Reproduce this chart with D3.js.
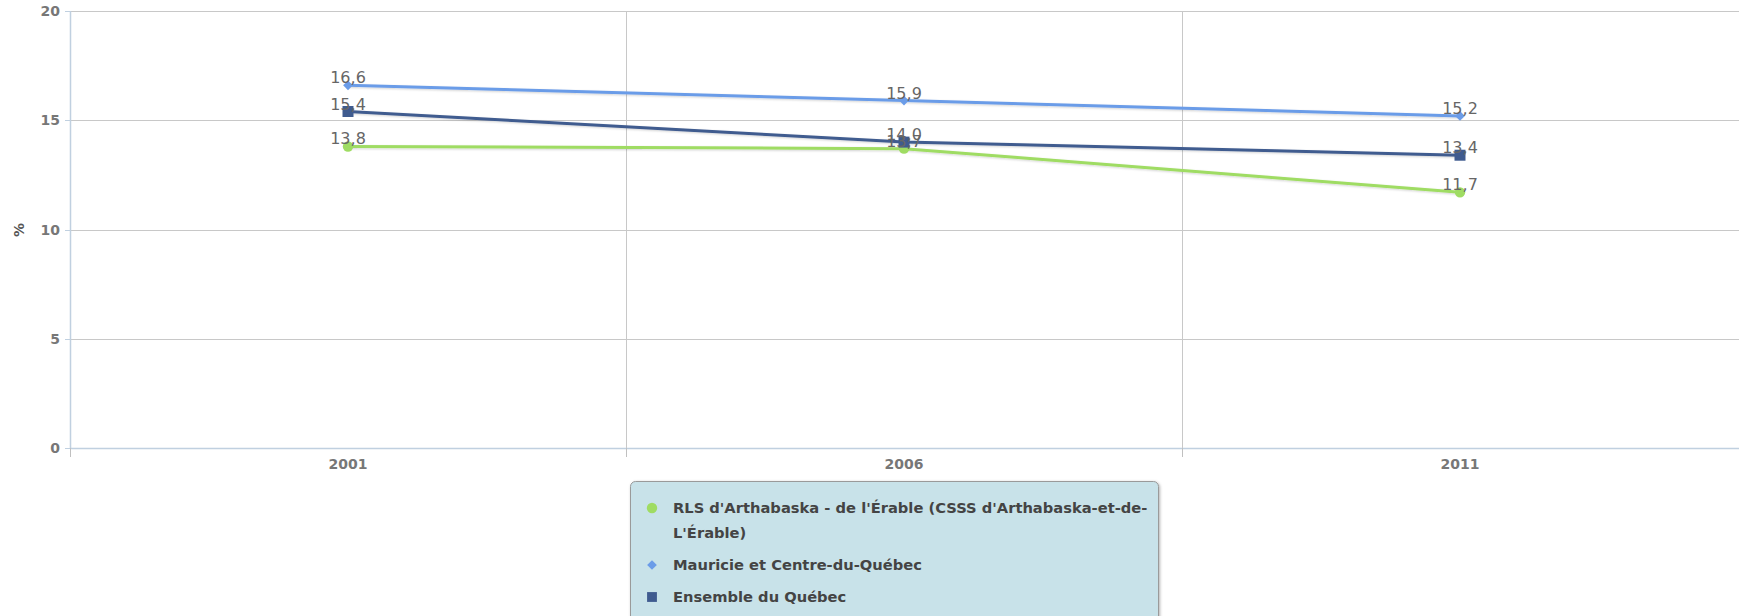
<!DOCTYPE html>
<html>
<head>
<meta charset="utf-8">
<script src="https://cdn.jsdelivr.net/npm/d3@7"></script>
<style>
  html, body { margin: 0; padding: 0; background: #fff; }
  svg { display: block; font-family: "DejaVu Sans", Verdana, sans-serif; }
</style>
</head>
<body>
<svg id="chart" width="1739" height="616"></svg>
<script>
// Years on the category axis
const years = ["2001", "2006", "2011"];

// Series values (%)
const rlsValues = [13.8, 13.7, 11.7];
const mauricieValues = [16.6, 15.9, 15.2];
const quebecValues = [15.4, 14.0, 13.4];

// Y axis ticks
const yTicks = [0, 5, 10, 15, 20];

const seriesNames = [
  ["RLS d'Arthabaska - de l'Érable (CSSS d'Arthabaska-et-de-", "L'Érable)"],
  ["Mauricie et Centre-du-Québec"],
  ["Ensemble du Québec"]
];

const series = [
  { name: seriesNames[0], values: rlsValues, color: "#9fdc63", symbol: "circle" },
  { name: seriesNames[1], values: mauricieValues, color: "#6b9ce8", symbol: "diamond" },
  { name: seriesNames[2], values: quebecValues, color: "#3f5b8f", symbol: "square" }
];

const svg = d3.select("#chart");
const plot = { left: 70, right: 1738, top: 11, bottom: 448 };

const x = d3.scaleBand().domain(years).range([plot.left, plot.right]).padding(0);
const y = d3.scaleLinear().domain([0, 20]).range([plot.bottom, plot.top]);
const cx = d => x(d) + x.bandwidth() / 2;

const defs = svg.append("defs");
const shadow = defs.append("filter").attr("id", "shadow")
  .attr("x", "-5%").attr("y", "-50%").attr("width", "110%").attr("height", "200%");
shadow.append("feDropShadow").attr("dx", 1).attr("dy", 1).attr("stdDeviation", 1)
  .attr("flood-color", "#000").attr("flood-opacity", 0.18);
const boxShadow = defs.append("filter").attr("id", "boxshadow")
  .attr("x", "-5%").attr("y", "-20%").attr("width", "110%").attr("height", "140%");
boxShadow.append("feDropShadow").attr("dx", 1).attr("dy", 1).attr("stdDeviation", 1.5)
  .attr("flood-color", "#000").attr("flood-opacity", 0.3);

// Horizontal grid lines
svg.append("g").selectAll("line").data(yTicks.filter(t => t > 0)).join("line")
  .attr("x1", plot.left).attr("x2", 1739)
  .attr("y1", d => Math.round(y(d)) + 0.5).attr("y2", d => Math.round(y(d)) + 0.5)
  .attr("stroke", "#c8c8c8").attr("stroke-width", 1);

// Vertical grid lines at category boundaries
const boundaries = years.slice(1).map(d => x(d));
svg.append("g").selectAll("line").data(boundaries).join("line")
  .attr("x1", d => Math.round(d) + 0.5).attr("x2", d => Math.round(d) + 0.5)
  .attr("y1", plot.top).attr("y2", plot.bottom)
  .attr("stroke", "#c8c8c8").attr("stroke-width", 1);

// X axis
const xAxis = svg.append("g");
xAxis.append("line")
  .attr("x1", plot.left).attr("x2", 1739)
  .attr("y1", plot.bottom + 0.5).attr("y2", plot.bottom + 0.5)
  .attr("stroke", "#c0d0e0").attr("stroke-width", 1.5);
xAxis.selectAll("line.tick").data([x(years[0])].concat(boundaries)).join("line")
  .attr("class", "tick")
  .attr("x1", d => Math.round(d) + 0.5).attr("x2", d => Math.round(d) + 0.5)
  .attr("y1", plot.bottom).attr("y2", plot.bottom + 9)
  .attr("stroke", "#c0c0c0").attr("stroke-width", 1);
xAxis.selectAll("text").data(years).join("text")
  .attr("x", d => cx(d)).attr("y", plot.bottom + 21)
  .attr("text-anchor", "middle")
  .attr("font-size", 14).attr("font-weight", "bold").attr("fill", "#777")
  .text(d => d);

// Y axis
const yAxis = svg.append("g");
yAxis.append("line")
  .attr("x1", plot.left + 0.5).attr("x2", plot.left + 0.5)
  .attr("y1", plot.top).attr("y2", plot.bottom)
  .attr("stroke", "#c0d0e0").attr("stroke-width", 1.5);
yAxis.selectAll("line.tick").data(yTicks).join("line")
  .attr("class", "tick")
  .attr("x1", plot.left - 5).attr("x2", plot.left)
  .attr("y1", d => Math.round(y(d)) + 0.5).attr("y2", d => Math.round(y(d)) + 0.5)
  .attr("stroke", "#c0d0e0").attr("stroke-width", 1);
yAxis.selectAll("text").data(yTicks).join("text")
  .attr("x", plot.left - 10).attr("y", d => y(d) + 5)
  .attr("text-anchor", "end")
  .attr("font-size", 14).attr("font-weight", "bold").attr("fill", "#777")
  .text(d => d);
svg.append("text")
  .attr("transform", "translate(24,230) rotate(-90)")
  .attr("text-anchor", "middle")
  .attr("font-size", 14).attr("font-weight", "bold").attr("fill", "#555")
  .text("%");

// Marker shapes
function symbolPath(type, size) {
  const t = type === "circle" ? d3.symbolCircle : type === "diamond" ? d3.symbolDiamond2 : d3.symbolSquare;
  return d3.symbol().type(t).size(size)();
}
const markerSize = { circle: 85, diamond: 60, square: 121 };

// Series lines and markers
const line = d3.line().x((d, i) => cx(years[i])).y(d => y(d));
series.forEach(s => {
  const g = svg.append("g");
  g.append("path").datum(s.values)
    .attr("d", line).attr("fill", "none")
    .attr("stroke", s.color).attr("stroke-width", 3)
    .attr("stroke-linejoin", "round").attr("stroke-linecap", "round")
    .attr("filter", "url(#shadow)");
  g.selectAll("path.marker").data(s.values).join("path")
    .attr("class", "marker")
    .attr("transform", (d, i) => `translate(${cx(years[i])},${y(d)})`)
    .attr("d", symbolPath(s.symbol, markerSize[s.symbol]))
    .attr("fill", s.color);
});

// Data labels
series.forEach(s => {
  svg.append("g").selectAll("text").data(s.values).join("text")
    .attr("x", (d, i) => cx(years[i]))
    .attr("y", d => y(d) - 2)
    .attr("text-anchor", "middle")
    .attr("font-size", 16).attr("fill", "#666")
    .text(d => d.toFixed(1).replace(".", ","));
});

// Legend
const legend = svg.append("g");
legend.append("rect")
  .attr("x", 630.5).attr("y", 481.5).attr("width", 528).attr("height", 150)
  .attr("rx", 5).attr("ry", 5)
  .attr("fill", "#c8e2e9").attr("stroke", "#9a9a9a").attr("stroke-width", 1)
  .attr("filter", "url(#boxshadow)");
const itemY = [508, 565, 597];
series.forEach((s, i) => {
  legend.append("path")
    .attr("transform", `translate(652,${itemY[i]})`)
    .attr("d", symbolPath(s.symbol, markerSize[s.symbol] * (s.symbol === "square" ? 0.8 : 1)))
    .attr("fill", s.color);
  const t = legend.append("text")
    .attr("x", 673).attr("y", itemY[i] + 5)
    .attr("font-size", 14.7).attr("font-weight", "bold").attr("fill", "#444");
  s.name.forEach((ln, k) => {
    t.append("tspan").attr("x", 673).attr("dy", k === 0 ? 0 : 25).text(ln);
  });
});
</script>
</body>
</html>
